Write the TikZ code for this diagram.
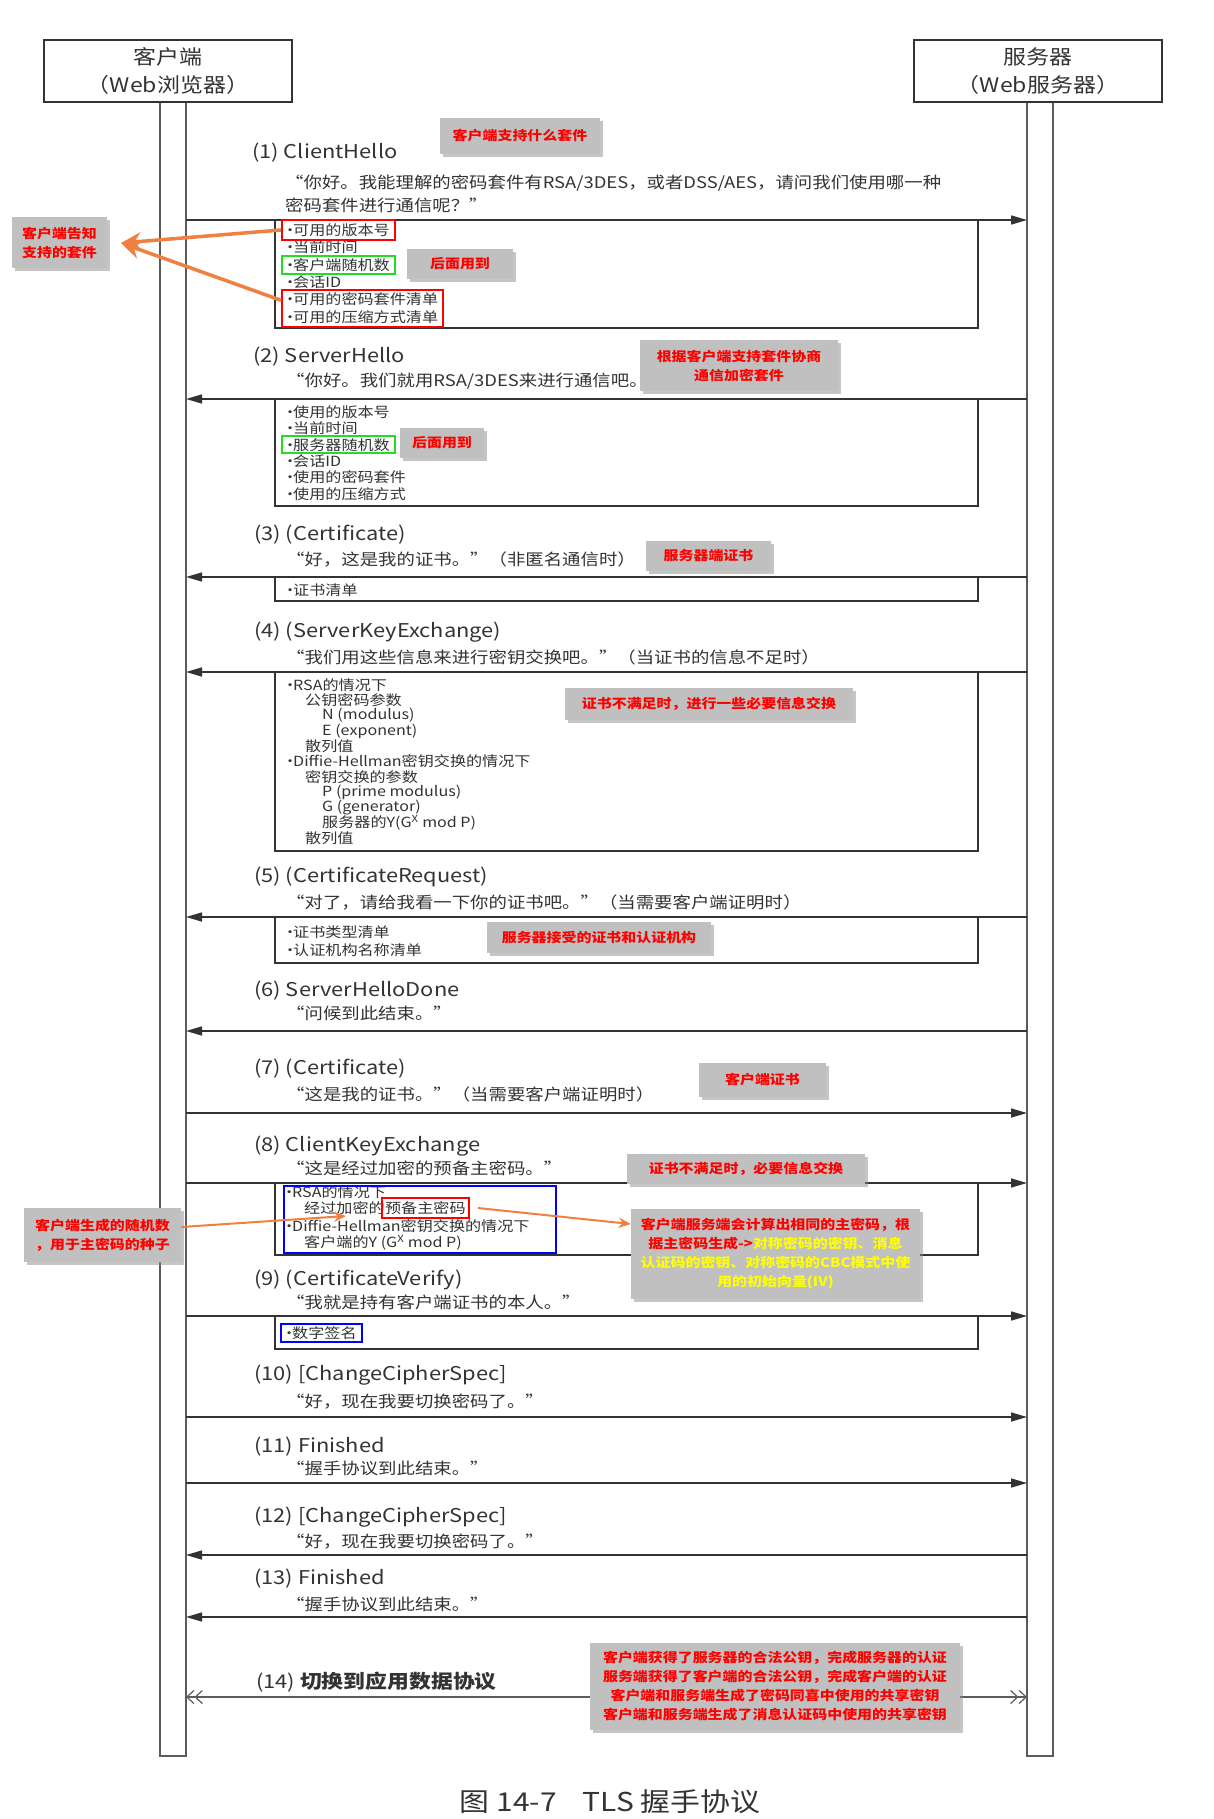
\documentclass[tikz,border=0pt]{standalone}
\usepackage{fontspec}
\setmainfont{Noto Sans CJK SC}[FakeStretch=1.15]
\usetikzlibrary{arrows.meta,positioning,fit,shadows}
\definecolor{ink}{HTML}{333333}
\definecolor{notegray}{HTML}{C0C0C0}
\definecolor{markred}{HTML}{FF0000}
\definecolor{markgreen}{HTML}{22DD22}
\definecolor{markblue}{HTML}{0000FF}
\definecolor{hint}{HTML}{F08040}
\definecolor{hiyellow}{HTML}{FFFF00}
\newcommand\bul{\makebox[6pt]{·}}

\tikzset{
  hdr/.style={draw=ink, line width=2.5pt, fill=white, minimum width=248pt, minimum height=62pt, align=center, text=ink, font=\fontsize{20}{28}\selectfont},
  lifebar/.style={draw=ink!80, line width=1.2pt, minimum width=26pt, minimum height=1654pt, inner sep=0pt},
  msg/.style={draw=ink, line width=1.5pt, -{Triangle[length=16pt,width=9pt]}},
  appmsg/.style={draw=ink!80, line width=1.2pt, {Straight Barb[length=7pt,width=13pt]Straight Barb[length=7pt,width=13pt]}-{Straight Barb[length=7pt,width=13pt]Straight Barb[length=7pt,width=13pt]}},
  body/.style={draw=ink, line width=1.3pt},
  title/.style={anchor=west, inner sep=0pt, text=ink, font=\fontsize{19}{23}\selectfont},
  quote/.style={anchor=west, inner sep=0pt, text=ink, align=left, font=\fontsize{16}{23}\selectfont},
  item/.style={anchor=west, inner sep=0pt, text=ink, font=\fontsize{14}{16}\selectfont},
  note/.style={fill=notegray, inner sep=0pt, align=center, text=markred, font=\bfseries\fontsize{13}{19}\selectfont, drop shadow={shadow xshift=3pt, shadow yshift=-3pt, fill=black!45}},
  redmark/.style={draw=markred, line width=2pt, inner xsep=5pt, inner ysep=3pt},
  greenmark/.style={draw=markgreen, line width=2pt, inner xsep=5pt, inner ysep=2pt},
  bluemark/.style={draw=markblue, line width=2pt, inner xsep=5pt, inner ysep=3pt},
  hintarrow/.style={draw=hint, line width=3.5pt, -{Stealth[length=20pt,width=18pt]}},
  thinhint/.style={draw=hint, line width=2pt, -{Stealth[length=12pt,width=10pt]}},
}

\begin{document}
\begin{tikzpicture}[x=1pt,y=-1pt]
\fill[white] (0,0) rectangle (1213,1819);
\useasboundingbox (0,0) rectangle (1213,1819);

% lifelines and headers
\node[lifebar] (cbar) at (173,929) {};
\node[lifebar] (sbar) at (1040,929) {};
\node[hdr] (client) at (168,71) {客户端\\（Web浏览器）};
\node[hdr] (server) at (1038,71) {服务器\\（Web服务器）};

% message boxes
\foreach \top/\bot in {220/328, 399/506, 577/601, 672/851, 917/963, 1183/1255, 1316/1349}
  \draw[body] (275,\top) |- (978,\bot) -- (978,\top);

% messages
\foreach \i/\y in {1/220, 2/399, 3/577, 4/672, 5/917, 6/1031, 7/1113, 8/1183, 9/1316, 10/1417, 11/1483, 12/1555, 13/1617, 14/1697} {
  \coordinate (c\i) at (186,\y);
  \coordinate (s\i) at (1027,\y);
}
\foreach \i in {1,7,8,9,10,11}
  \draw[msg] (c\i) -- (s\i);
\foreach \i in {2,3,4,5,6,12,13}
  \draw[msg] (s\i) -- (c\i);
\draw[appmsg] (c14) -- (s14);

% titles
\node[title] (t1) at (252,153) {(1) ClientHello};
\node[title] (t2) at (253,357) {(2) ServerHello};
\node[title] (t3) at (254,535) {(3) (Certificate)};
\node[title] (t4) at (254,632) {(4) (ServerKeyExchange)};
\node[title] (t5) at (254,877) {(5) (CertificateRequest)};
\node[title] (t6) at (254,991) {(6) ServerHelloDone};
\node[title] (t7) at (254,1069) {(7) (Certificate)};
\node[title] (t8) at (254,1146) {(8) ClientKeyExchange};
\node[title] (t9) at (254,1280) {(9) (CertificateVerify)};
\node[title] (t10) at (254,1375) {(10) [ChangeCipherSpec]};
\node[title] (t11) at (254,1447) {(11) Finished};
\node[title] (t12) at (254,1517) {(12) [ChangeCipherSpec]};
\node[title] (t13) at (254,1579) {(13) Finished};
\node[title] (t14) at (256,1682) {(14) \textbf{切换到应用数据协议}};

% quotes
\node[quote] (q1) at (285,193.5) {“你好。我能理解的密码套件有RSA/3DES，或者DSS/AES，请问我们使用哪一种\\密码套件进行通信呢？”};
\node[quote] (q2) at (286,381) {“你好。我们就用RSA/3DES来进行通信吧。”};
\node[quote] (q3) at (286,560) {“好，这是我的证书。”（非匿名通信时）};
\node[quote] (q4) at (286,657) {“我们用这些信息来进行密钥交换吧。”（当证书的信息不足时）};
\node[quote] (q5) at (286,902) {“对了，请给我看一下你的证书吧。”（当需要客户端证明时）};
\node[quote] (q6) at (286,1013) {“问候到此结束。”};
\node[quote] (q7) at (286,1094) {“这是我的证书。”（当需要客户端证明时）};
\node[quote] (q8) at (286,1168) {“这是经过加密的预备主密码。”};
\node[quote] (q9) at (286,1302) {“我就是持有客户端证书的本人。”};
\node[quote] (q10) at (286,1402) {“好，现在我要切换密码了。”};
\node[quote] (q11) at (286,1468) {“握手协议到此结束。”};
\node[quote] (q12) at (286,1542) {“好，现在我要切换密码了。”};
\node[quote] (q13) at (286,1604) {“握手协议到此结束。”};

% box items
\foreach \t [count=\i from 0] in {可用的版本号, 当前时间, 客户端随机数, 会话ID, 可用的密码套件清单, 可用的压缩方式清单}
  \node[item] (b1-\i) at (287,{230+17.4*\i}) {\bul\t};
\foreach \t [count=\i from 0] in {使用的版本号, 当前时间, 服务器随机数, 会话ID, 使用的密码套件, 使用的压缩方式}
  \node[item] (b2-\i) at (287,{412+16.4*\i}) {\bul\t};
\node[item] (b3-0) at (287,590) {\bul 证书清单};
\foreach \dx/\t [count=\i from 0] in {0/\bul RSA的情况下, 18/公钥密码参数, 35/N (modulus), 35/E (exponent), 18/散列值, 0/\bul Diffie-Hellman密钥交换的情况下, 18/密钥交换的参数, 35/P (prime modulus), 35/G (generator), 35/服务器的Y(G\textsuperscript{X} mod P), 18/散列值}
  \node[item] (b4-\i) at ({287+\dx},{685+15.3*\i}) {\t};
\node[item] (b5-0) at (287,932) {\bul 证书类型清单};
\node[item] (b5-1) at (287,950) {\bul 认证机构名称清单};
\node[item] (b8-0) at (286,1192) {\bul RSA的情况下};
\node[item] (b8-1) at (304,1208) {经过加密的};
\node[item, right=0pt of b8-1] (pm) {预备主密码};
\node[item] (b8-2) at (286,1226) {\bul Diffie-Hellman密钥交换的情况下};
\node[item] (b8-3) at (304,1243) {客户端的Y (G\textsuperscript{X} mod P)};
\node[item] (b9-0) at (286,1333) {\bul 数字签名};

% marks
\node[redmark, fit=(b1-0)] (m1) {};
\node[greenmark, fit=(b1-2)] (g1) {};
\node[redmark, fit=(b1-4)(b1-5)] (m2) {};
\node[greenmark, fit=(b2-2)] (g2) {};
\node[redmark, inner xsep=3pt, fit=(pm)] (m8) {};
\draw[markblue, line width=2pt] (284,1186) rectangle (556,1253);
\node[bluemark, inner ysep=2pt, fit=(b9-0)] (k9) {};

% notes
\node[note, minimum width=160pt, minimum height=36pt] (n1) at (520,136) {客户端支持什么套件};
\node[note, minimum width=95pt, minimum height=51pt] (n2) at (59.5,242.5) {客户端告知\\支持的套件};
\node[note, minimum width=106pt, minimum height=30pt] (n3) at (460,264) {后面用到};
\node[note, minimum width=198pt, minimum height=51pt] (n4) at (739,365.5) {根据客户端支持套件协商\\通信加密套件};
\node[note, minimum width=84pt, minimum height=30pt] (n5) at (442,443) {后面用到};
\node[note, minimum width=125pt, minimum height=30pt] (n6) at (708.5,556) {服务器端证书};
\node[note, minimum width=288pt, minimum height=32pt] (n7) at (709,704) {证书不满足时，进行一些必要信息交换};
\node[note, minimum width=224pt, minimum height=31pt] (n8) at (599,937.5) {服务器接受的证书和认证机构};
\node[note, minimum width=127pt, minimum height=34pt] (n9) at (762.5,1080) {客户端证书};
\node[note, minimum width=238pt, minimum height=30pt] (n10) at (746,1169) {证书不满足时，必要信息交换};
\node[note, minimum width=157pt, minimum height=54pt] (n11) at (102.5,1235) {客户端生成的随机数\\，用于主密码的种子};
\node[note, minimum width=289pt, minimum height=90pt] (n12) at (775.5,1254) {客户端服务端会计算出相同的主密码，根\\据主密码生成->\textcolor{hiyellow}{对称密码的密钥、消息}\\\textcolor{hiyellow}{认证码的密钥、对称密码的CBC模式中使}\\\textcolor{hiyellow}{用的初始向量(IV)}};
\node[note, minimum width=370pt, minimum height=87pt] (n13) at (775,1686.5) {客户端获得了服务器的合法公钥，完成服务器的认证\\服务端获得了客户端的合法公钥，完成客户端的认证\\客户端和服务端生成了密码同喜中使用的共享密钥\\客户端和服务端生成了消息认证码中使用的共享密钥};

% hint arrows
\coordinate (tip1) at (121,243);
\coordinate (tip3) at (346,1216);
\draw[hintarrow] (m1.west) -- (tip1);
\draw[hintarrow] ([yshift=8pt]m2.west) -- (tip1);
\draw[thinhint] ([yshift=8pt]n11.east) -- (tip3);
\draw[thinhint] ([xshift=8pt]m8.east) -- ([yshift=30pt]n12.west);

% caption
\node[text=ink, inner sep=0pt, font=\fontsize{26}{30}\selectfont] (cap) at (610,1802) {图 14-7\quad TLS 握手协议};
\end{tikzpicture}
\end{document}
